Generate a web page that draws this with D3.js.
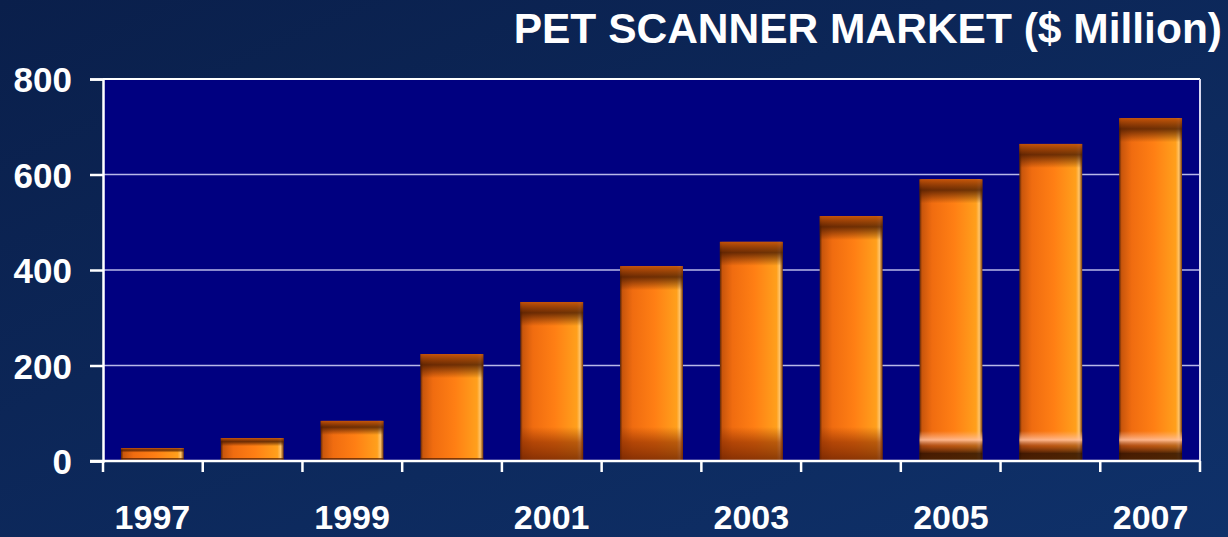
<!DOCTYPE html>
<html>
<head>
<meta charset="utf-8">
<script src="https://cdn.jsdelivr.net/npm/d3@7"></script>
<style>
  html, body { margin: 0; padding: 0; background: #0b2456; }
  svg { display: block; }
  text { font-family: "Liberation Sans", Arial, sans-serif; font-weight: bold; fill: #fff; }
</style>
</head>
<body>
<div id="chart"></div>
<script>
var years = ["1997", "1998", "1999", "2000", "2001", "2002", "2003", "2004", "2005", "2006", "2007"];
var market = [27, 48, 84, 224, 333, 408, 459, 513, 590, 664, 718];
var yTicks = [0, 200, 400, 600, 800];
var xLabels = ["1997", "1999", "2001", "2003", "2005", "2007"];
var title = "PET SCANNER MARKET ($ Million)";

var W = 1228, H = 537;
var margin = { top: 79, right: 28, bottom: 76, left: 103 };
var width = W - margin.left - margin.right;
var height = H - margin.top - margin.bottom;

var svg = d3.select("#chart").append("svg")
  .attr("width", W)
  .attr("height", H);

var defs = svg.append("defs");

// page background
var bg = defs.append("linearGradient").attr("id", "bg")
  .attr("x1", "0").attr("y1", "0").attr("x2", "1").attr("y2", "1");
bg.append("stop").attr("offset", "0%").attr("stop-color", "#0a1f4b");
bg.append("stop").attr("offset", "100%").attr("stop-color", "#0f316a");
svg.append("rect").attr("width", W).attr("height", H).attr("fill", "url(#bg)");

// bar body, left to right
var body = defs.append("linearGradient").attr("id", "barBody")
  .attr("x1", "0").attr("y1", "0").attr("x2", "1").attr("y2", "0");
[["0%", "#5a2606"], ["4%", "#c9560c"], ["20%", "#f06c10"], ["55%", "#ff7f14"],
 ["90%", "#ffa01c"], ["95%", "#ffc46a"], ["100%", "#7a3a08"]].forEach(function(s) {
  body.append("stop").attr("offset", s[0]).attr("stop-color", s[1]);
});

// top shadow band
var topG = defs.append("linearGradient").attr("id", "barTop")
  .attr("x1", "0").attr("y1", "0").attr("x2", "0").attr("y2", "1");
[["0%", "#c05008", 0.9], ["45%", "#4a1a00", 0.8], ["100%", "#4a1a00", 0]].forEach(function(s) {
  topG.append("stop").attr("offset", s[0]).attr("stop-color", s[1]).attr("stop-opacity", s[2]);
});

// bottom band, mid bars (dark)
var botA = defs.append("linearGradient").attr("id", "barBotA")
  .attr("x1", "0").attr("y1", "0").attr("x2", "0").attr("y2", "1");
[["0%", "#8a2c00", 0], ["45%", "#8a2c00", 0.6], ["100%", "#6a2000", 0.8]].forEach(function(s) {
  botA.append("stop").attr("offset", s[0]).attr("stop-color", s[1]).attr("stop-opacity", s[2]);
});

// bottom band, tall bars (highlight then dark)
var botB = defs.append("linearGradient").attr("id", "barBotB")
  .attr("x1", "0").attr("y1", "0").attr("x2", "0").attr("y2", "1");
[["0%", "#ffb890", 0], ["30%", "#ffc0a0", 0.85], ["50%", "#8a3a10", 0.6],
 ["75%", "#2a0e00", 0.85], ["100%", "#3a1800", 0.9]].forEach(function(s) {
  botB.append("stop").attr("offset", s[0]).attr("stop-color", s[1]).attr("stop-opacity", s[2]);
});

var g = svg.append("g")
  .attr("transform", "translate(" + margin.left + "," + margin.top + ")");

var x = d3.scaleBand().domain(years).range([0, width]).paddingInner(0.37).paddingOuter(0.18);
var y = d3.scaleLinear().domain([0, 800]).range([height, 0]);

// plot area
g.append("rect")
  .attr("width", width)
  .attr("height", height)
  .attr("fill", "#000080");

// grid
g.selectAll(".grid")
  .data(yTicks.filter(function(d) { return d > 0 && d < 800; }))
  .enter().append("line")
  .attr("x1", 0).attr("x2", width)
  .attr("y1", function(d) { return y(d); })
  .attr("y2", function(d) { return y(d); })
  .attr("stroke", "#b8b8e8")
  .attr("stroke-width", 1.5);

// frame top and right
g.append("line").attr("x1", 0).attr("x2", width).attr("y1", 0).attr("y2", 0)
  .attr("stroke", "#ffffff").attr("stroke-width", 2);
g.append("line").attr("x1", width).attr("x2", width).attr("y1", 0).attr("y2", height)
  .attr("stroke", "#d8d8f0").attr("stroke-width", 2);

// bars
var bars = g.selectAll(".bar")
  .data(years.map(function(yr, i) { return { year: yr, value: market[i], i: i }; }))
  .enter().append("g")
  .attr("class", "bar");

bars.append("rect")
  .attr("x", function(d) { return x(d.year); })
  .attr("y", function(d) { return y(d.value); })
  .attr("width", x.bandwidth())
  .attr("height", function(d) { return height - y(d.value); })
  .attr("fill", "url(#barBody)");

bars.append("rect")
  .attr("x", function(d) { return x(d.year); })
  .attr("y", function(d) { return y(d.value); })
  .attr("width", x.bandwidth())
  .attr("height", function(d) { return Math.min(24, (height - y(d.value)) * 0.35); })
  .attr("fill", "url(#barTop)");

bars.filter(function(d) { return d.value > 300; }).append("rect")
  .attr("x", function(d) { return x(d.year); })
  .attr("y", function(d) { return height - (d.value > 560 ? 30 : 34); })
  .attr("width", x.bandwidth())
  .attr("height", function(d) { return d.value > 560 ? 30 : 34; })
  .attr("fill", function(d) { return d.value > 560 ? "url(#barBotB)" : "url(#barBotA)"; });

bars.filter(function(d) { return d.value < 300; }).append("rect")
  .attr("x", function(d) { return x(d.year); })
  .attr("y", height - 3)
  .attr("width", x.bandwidth())
  .attr("height", 3)
  .attr("fill", "#4a1a00")
  .attr("opacity", 0.7);

// y axis
var yAxis = g.append("g")
  .call(d3.axisLeft(y).tickValues(yTicks).tickSize(13).tickPadding(18));
yAxis.select(".domain").attr("stroke", "#fff").attr("stroke-width", 2.5);
yAxis.selectAll(".tick line").attr("stroke", "#fff").attr("stroke-width", 2.5);
yAxis.selectAll(".tick text")
  .attr("fill", "#fff")
  .attr("font-size", "35px")
  .attr("font-family", "Liberation Sans, Arial, sans-serif")
  .attr("font-weight", "bold")
  .attr("dy", "0.36em");

// x axis: ticks on band boundaries, labels on odd years
var boundaries = d3.range(years.length + 1).map(function(i) { return i * width / years.length; });
var xAxis = g.append("g").attr("transform", "translate(0," + height + ")");
xAxis.append("line").attr("x1", -13).attr("x2", width).attr("y1", 0).attr("y2", 0)
  .attr("stroke", "#fff").attr("stroke-width", 2.5);
xAxis.selectAll(".xt")
  .data(boundaries)
  .enter().append("line")
  .attr("x1", function(d) { return d; }).attr("x2", function(d) { return d; })
  .attr("y1", 0).attr("y2", 11)
  .attr("stroke", "#fff").attr("stroke-width", 2.5);
xAxis.selectAll(".xl")
  .data(xLabels)
  .enter().append("text")
  .attr("x", function(d) { return x(d) + x.bandwidth() / 2; })
  .attr("y", 68)
  .attr("text-anchor", "middle")
  .attr("font-size", "34px")
  .text(function(d) { return d; });

// title
svg.append("text")
  .attr("x", 1222)
  .attr("y", 43)
  .attr("text-anchor", "end")
  .attr("font-size", "42.5px")
  .text(title);
</script>
</body>
</html>
